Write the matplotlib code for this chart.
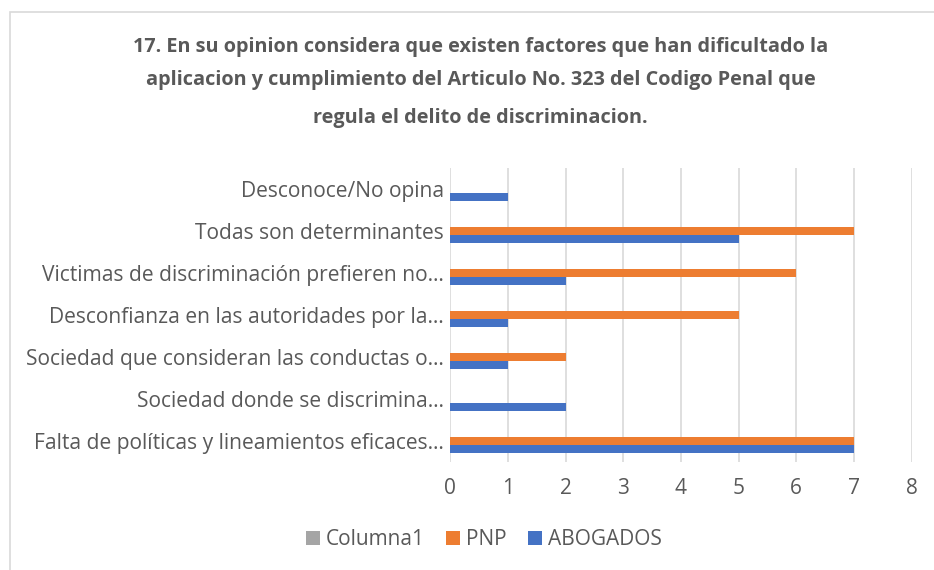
import numpy as np
import matplotlib
matplotlib.use('Agg')
from matplotlib import pyplot as plt
from matplotlib.patches import Rectangle

plt.rcParams['font.family'] = ['Open Sans', 'DejaVu Sans']

categories = ['Falta de políticas y lineamientos eficaces…',
              'Sociedad donde se discrimina…',
              'Sociedad que consideran las conductas o…',
              'Desconfianza en las autoridades por la…',
              'Victimas de discriminación prefieren no…',
              'Todas son determinantes',
              'Desconoce/No opina']
abogados = [7, 2, 1, 1, 2, 5, 1]
pnp = [7, 0, 2, 5, 6, 7, 0]
columna1 = [0, 0, 0, 0, 0, 0, 0]
xticks = [0, 1, 2, 3, 4, 5, 6, 7, 8]

title_lines = ['17. En su opinion considera que existen factores que han dificultado la',
               'aplicacion y cumplimiento del Articulo No. 323 del Codigo Penal que',
               'regula el delito de discriminacion.']

gray_txt = '#595959'
fig = plt.figure(figsize=(9.34, 5.7), dpi=100)
ax = fig.add_axes([0.482, 0.19, 0.494, 0.515])

y = np.arange(len(categories))
w = 0.19
ax.barh(y - w, abogados, height=w, color='#4472C4', label='ABOGADOS', zorder=3)
ax.barh(y, pnp, height=w, color='#ED7D31', label='PNP', zorder=3)
ax.barh(y + w, columna1, height=w, color='#A5A5A5', label='Columna1', zorder=3)

ax.set_xlim(0, 8)
ax.set_ylim(-0.5, len(categories) - 0.5)
ax.set_xticks(xticks)
ax.set_xticklabels([str(t) for t in xticks], fontsize=15, color=gray_txt)
ax.set_yticks(y)
ax.set_yticklabels(categories, fontsize=15.1, color=gray_txt)
ax.tick_params(length=0)
ax.tick_params(axis='y', pad=4.5)
ax.tick_params(axis='x', pad=12)
ax.grid(axis='x', color='#D9D9D9', linewidth=1.2, zorder=0)
for s in ax.spines.values():
    s.set_visible(False)

# title lines
ys = [0.918, 0.86, 0.793]
for t, yy in zip(title_lines, ys):
    fig.text(0.5145, yy, t, ha='center', va='center', fontsize=14.3,
             fontweight='bold', color=gray_txt)

handles, labels = ax.get_legend_handles_labels()
fig.legend(handles[::-1], labels[::-1], loc='center', bbox_to_anchor=(0.518, 0.053),
           ncol=3, frameon=False, fontsize=15, labelcolor=gray_txt,
           handlelength=0.67, handleheight=0.67, handletextpad=0.3, columnspacing=1.0)

# chart area border
fig.patches.append(Rectangle((0.011, -0.05), 1.2, 1.029, transform=fig.transFigure,
                             fill=False, edgecolor='#D9D9D9', linewidth=1.2))

plt.savefig('out.png', dpi=100)
